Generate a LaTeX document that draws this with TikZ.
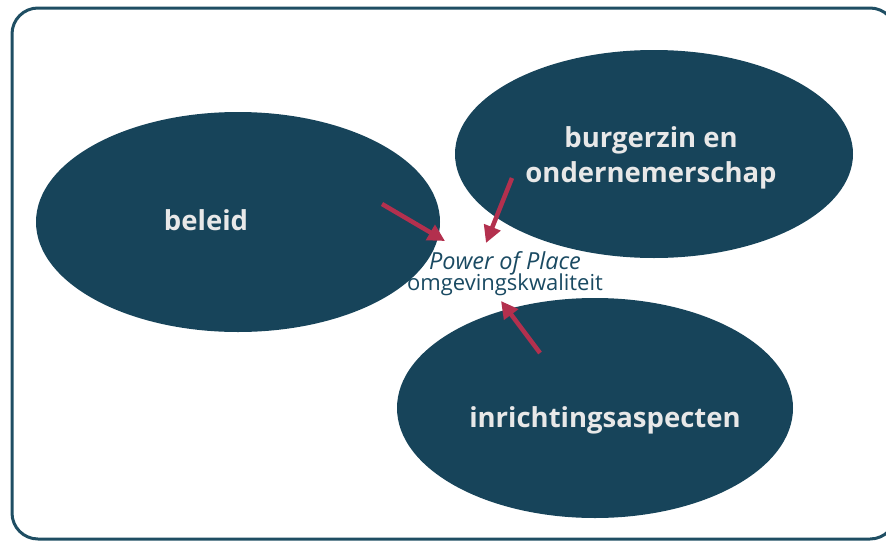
\documentclass[tikz,border=0pt]{standalone}
\usepackage{fontspec}
\setmainfont{Open Sans}
\usetikzlibrary{arrows.meta}
\definecolor{ellblue}{HTML}{17445A}
\definecolor{framecol}{HTML}{1F4E63}
\definecolor{arrowred}{HTML}{B3304E}
\definecolor{txtblue}{HTML}{1A4A62}
\definecolor{lbl}{HTML}{E8E8E8}
\tikzset{
  lbltext/.style={text=lbl, font=\fontsize{27.5}{35}\selectfont\bfseries, align=center},
  redarrow/.style={draw=arrowred, line width=4.5pt, -{Triangle[length=17pt,width=17pt]}},
}
\begin{document}
\begin{tikzpicture}[x=1pt,y=-1pt]
\useasboundingbox (0,0) rectangle (886,541);
\begin{scope}
\clip (0,0) rectangle (886,541);
\draw[framecol, line width=3pt, rounded corners=26pt] (12,8) rectangle (896,539);
\end{scope}
\fill[ellblue] (238,222) ellipse [x radius=202, y radius=110];
\fill[ellblue] (654,154) ellipse [x radius=199, y radius=104];
\fill[ellblue] (595,408) ellipse [x radius=198, y radius=110];
\node[lbltext] (beleid) at (206,220) {beleid};
\node[lbltext] (burger) at (651,158) {burgerzin en\\ondernemerschap};
\node[lbltext] (inricht) at (605,420) {inrichtingsaspecten};
\node[text=txtblue, font=\fontsize{23.5}{26}\selectfont\itshape] (pop) at (505,263) {Power of Place};
\node[text=txtblue, font=\fontsize{22}{26}\selectfont] (omg) at (505,285) {omgevingskwaliteit};
\coordinate (a1s) at (382,204);
\coordinate (a1e) at (445,241);
\coordinate (a2s) at (512,178);
\coordinate (a2e) at (486,243);
\coordinate (a3s) at (540,353);
\coordinate (a3e) at (501,301);
\draw[redarrow] (a1s) -- (a1e);
\draw[redarrow] (a2s) -- (a2e);
\draw[redarrow] (a3s) -- (a3e);
\end{tikzpicture}
\end{document}
